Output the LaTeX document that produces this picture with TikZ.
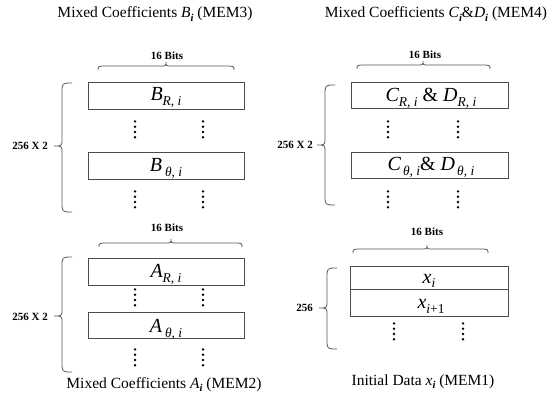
\documentclass[tikz,border=0pt]{standalone}
\usepackage{fontspec}
\setmainfont{Liberation Serif}

% lowered subscripts for the cell labels and the captions
\newcommand{\csub}[1]{\raisebox{-5pt}{\fontsize{13.5}{13.5}\selectfont\itshape #1}}
\newcommand{\tsub}[1]{\raisebox{-3.5pt}{\fontsize{10.5}{10.5}\selectfont\bfseries\itshape #1}}

% a column of four dots
\newcommand{\dotrun}[2]{\foreach \k in {0,1,2,3} \fill[dotcol] (#1,{#2+1.4+\k*5.3}) circle[radius=1.35pt];}

% brace on the left of a memory: end x, top y, bottom y, tip y
\newcommand{\sidebrace}[4]{\draw[bracestyle] (#1,#2) .. controls ({#1-10},#2) .. ({#1-10},{#2+10}) -- ({#1-10},{#4-7}) .. controls ({#1-10},#4) .. ({#1-18},#4) .. controls ({#1-10},#4) .. ({#1-10},{#4+7}) -- ({#1-10},{#3-10}) .. controls ({#1-10},#3) .. (#1,#3);}

% brace over a memory: left x, right x, end y, tip x
\newcommand{\topbrace}[4]{\draw[bracestyle] (#1,#3) .. controls (#1,{#3-4}) .. ({#1+10},{#3-4}) -- ({#4-6},{#3-4}) .. controls (#4,{#3-4}) .. (#4,{#3-8}) .. controls (#4,{#3-4}) .. ({#4+6},{#3-4}) -- ({#2-10},{#3-4}) .. controls (#2,{#3-4}) .. (#2,#3);}

\begin{document}
\begin{tikzpicture}[x=1pt,y=-1pt,
  membox/.style={draw=black!70, line width=0.9pt, inner sep=0pt, anchor=north west},
  cell/.style={inner sep=0pt, anchor=base, font=\fontsize{20}{20}\selectfont\itshape},
  caption/.style={inner sep=0pt, anchor=base, font=\fontsize{15.5}{16}\selectfont},
  bits/.style={inner sep=0pt, anchor=base, font=\fontsize{11}{11}\selectfont\bfseries},
  depth/.style={inner sep=0pt, anchor=east, font=\fontsize{11}{11}\selectfont\bfseries},
  bracestyle/.style={draw=black!65, line width=0.8pt},
  dotcol/.style={fill=black}]
\useasboundingbox[fill=white] (0,0) rectangle (560,393);

% ---------- MEM3 : B coefficients ----------
\node[caption] (cap3) at (155,18) {Mixed Coefficients \textit{B}\tsub{i} (MEM3)};
\node[bits] (bits3) at (167,60) {16 Bits};
\topbrace{98}{234}{70}{166}
\node[membox, minimum width=156pt, minimum height=27pt] (br) at (88,82) {};
\node[cell] (brl) at (166,101) {B\csub{R, i}};
\dotrun{135}{120}\dotrun{203}{120}
\node[membox, minimum width=156pt, minimum height=27pt] (bt) at (88,152) {};
\node[cell] (btl) at (166,172) {B\hspace{3pt}\csub{θ, i}};
\dotrun{135}{190}\dotrun{203}{190}
\sidebrace{72}{83}{212}{146}
\node[depth] (d3) at (48,146) {256 X 2};

% ---------- MEM4 : C and D coefficients ----------
\node[caption] (cap4) at (436,18) {Mixed Coefficients \textit{C}\tsub{i}\&\textit{D}\tsub{i} (MEM4)};
\node[bits] (bits4) at (425,59) {16 Bits};
\topbrace{357}{490}{69}{423}
\node[membox, minimum width=157pt, minimum height=26pt] (cr) at (351,82) {};
\node[cell] (crl) at (431,102) {C\csub{R, i} {\upshape\&} D\csub{R, i}};
\dotrun{388}{120}\dotrun{458}{120}
\node[membox, minimum width=157pt, minimum height=26pt] (ct) at (351,152) {};
\node[cell] (ctl) at (431,171) {C\hspace{2pt}\csub{θ, i}{\upshape\&} D\hspace{2pt}\csub{θ, i}};
\dotrun{388}{190}\dotrun{458}{190}
\sidebrace{335}{85}{205}{145}
\node[depth] (d4) at (313,145) {256 X 2};

% ---------- MEM2 : A coefficients ----------
\node[bits] (bits2) at (167,232) {16 Bits};
\topbrace{99}{242}{247}{171}
\node[membox, minimum width=156pt, minimum height=27pt] (ar) at (88,258) {};
\node[cell] (arl) at (166,277) {A\csub{R, i}};
\dotrun{135}{288}\dotrun{203}{288}
\node[membox, minimum width=156pt, minimum height=26pt] (at) at (88,312) {};
\node[cell] (atl) at (166,332) {A\hspace{3pt}\csub{θ, i}};
\dotrun{135}{348}\dotrun{203}{348}
\sidebrace{72}{257}{372}{316}
\node[depth] (d2) at (48,317) {256 X 2};
\node[caption] (cap2) at (164,388) {Mixed Coefficients \textit{A}\tsub{i} (MEM2)};

% ---------- MEM1 : initial data ----------
\node[bits] (bits1) at (427,236) {16 Bits};
\topbrace{353}{488}{253}{427}
\node[membox, minimum width=158pt, minimum height=23pt] (x0) at (350,266) {};
\node[membox, minimum width=158pt, minimum height=27pt] (x1) at (350,289) {};
\node[cell] (x0l) at (429,283) {x\csub{i}};
\node[cell] (x1l) at (431,308) {x\csub{i{\upshape+1}}};
\dotrun{394}{322}\dotrun{463}{322}
\sidebrace{337}{268}{349}{308}
\node[depth] (d1) at (313,308) {256};
\node[caption] (cap1) at (423,385) {Initial Data \textit{x}\tsub{i} (MEM1)};
\end{tikzpicture}
\end{document}
